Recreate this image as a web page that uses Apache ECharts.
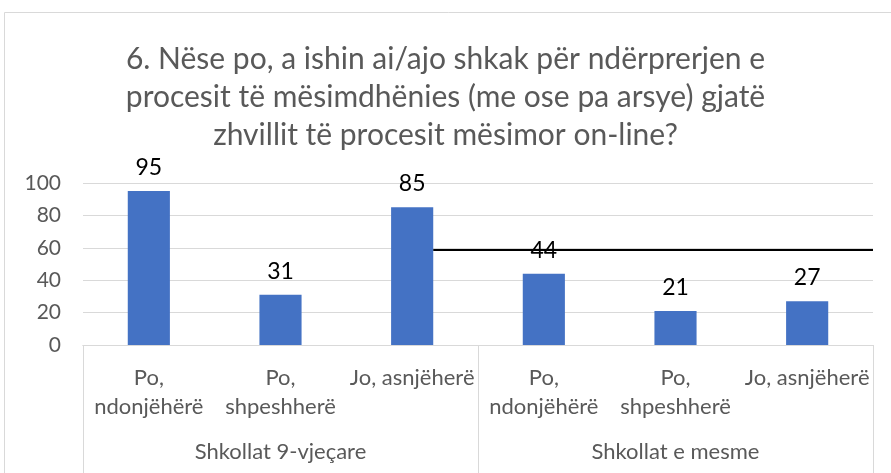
<!DOCTYPE html>
<html>
<head>
<meta charset="utf-8">
<script src="https://cdn.jsdelivr.net/npm/echarts@6/dist/echarts.min.js"></script>
<style>
  html, body { margin: 0; padding: 0; background: #fff; }
  #chart { width: 891px; height: 473px; }
</style>
</head>
<body>
<div id="chart"></div>
<script>
// Survey answers per school type
const titleText = '6. Nëse po, a ishin ai/ajo shkak për ndërprerjen e\nprocesit të mësimdhënies (me ose pa arsye) gjatë\nzhvillit të procesit mësimor on-line?';
const answerLabels = ['Po,\nndonjëhërë', 'Po,\nshpeshherë', 'Jo, asnjëherë', 'Po,\nndonjëhërë', 'Po,\nshpeshherë', 'Jo, asnjëherë'];
const groupLabels = ['Shkollat 9-vjeçare', 'Shkollat e mesme'];
const counts = [95, 31, 85, 44, 21, 27];
const yTicks = [0, 20, 40, 60, 80, 100];
const refLineValue = 58.6;

const FONT = 'Lato, "Liberation Sans", sans-serif';
const chart = echarts.init(document.getElementById('chart'), null, { renderer: 'canvas' });

const option = {
  animation: false,
  backgroundColor: '#fff',
  title: {
    text: titleText,
    left: 'center',
    top: 35,
    textStyle: { fontFamily: FONT, fontSize: 30, fontWeight: 'normal', color: '#595959', lineHeight: 38 }
  },
  grid: { left: 83, right: 18, top: 183, bottom: 128, containLabel: false },
  xAxis: [
    {
      type: 'category',
      data: answerLabels.map((_, i) => String(i)),
      axisLine: { show: true, lineStyle: { color: '#d9d9d9', width: 1 } },
      axisTick: { show: false },
      axisLabel: {
        interval: 0,
        margin: 18,
        formatter: (v) => answerLabels[+v],
        fontFamily: FONT, fontSize: 22, color: '#595959', lineHeight: 29,
        verticalAlign: 'top'
      }
    },
    {
      type: 'category',
      position: 'bottom',
      data: groupLabels,
      axisLine: { show: true, lineStyle: { color: '#d9d9d9', width: 1 } },
      axisTick: { show: true, length: 130, lineStyle: { color: '#d9d9d9', width: 1 } },
      axisLabel: {
        interval: 0,
        margin: 96,
        fontFamily: FONT, fontSize: 22, color: '#595959',
        verticalAlign: 'top'
      }
    }
  ],
  yAxis: {
    type: 'value',
    min: yTicks[0],
    max: yTicks[yTicks.length - 1],
    interval: yTicks[1] - yTicks[0],
    axisLine: { show: false },
    axisTick: { show: false },
    splitLine: { lineStyle: { color: '#d9d9d9', width: 1 } },
    axisLabel: { margin: 22, fontFamily: FONT, fontSize: 21, color: '#595959' }
  },
  series: [{
    type: 'bar',
    xAxisIndex: 0,
    data: counts,
    barWidth: '32%',
    itemStyle: { color: '#4472c4' },
    label: {
      show: true,
      position: 'top',
      distance: 12,
      fontFamily: FONT, fontSize: 23, color: '#000'
    }
  }]
};
chart.setOption(option);

// Outer frame and the horizontal reference line drawn after bar 3
const step = chart.convertToPixel({ xAxisIndex: 0 }, '1') - chart.convertToPixel({ xAxisIndex: 0 }, '0');
const x0 = chart.convertToPixel({ xAxisIndex: 0 }, '2') + step * 0.32 / 2;
const x1 = chart.convertToPixel({ xAxisIndex: 0 }, '5') + step / 2;
const yRef = chart.convertToPixel({ yAxisIndex: 0 }, refLineValue);

chart.setOption({
  graphic: [
    {
      type: 'rect',
      shape: { x: 4.5, y: 12.5, width: 1000, height: 1000 },
      style: { fill: 'none', stroke: '#d9d9d9', lineWidth: 1 },
      silent: true
    },
    {
      type: 'line',
      shape: { x1: x0, y1: yRef, x2: x1, y2: yRef },
      style: { stroke: '#000', lineWidth: 2 },
      z: 100
    }
  ]
});
</script>
</body>
</html>
